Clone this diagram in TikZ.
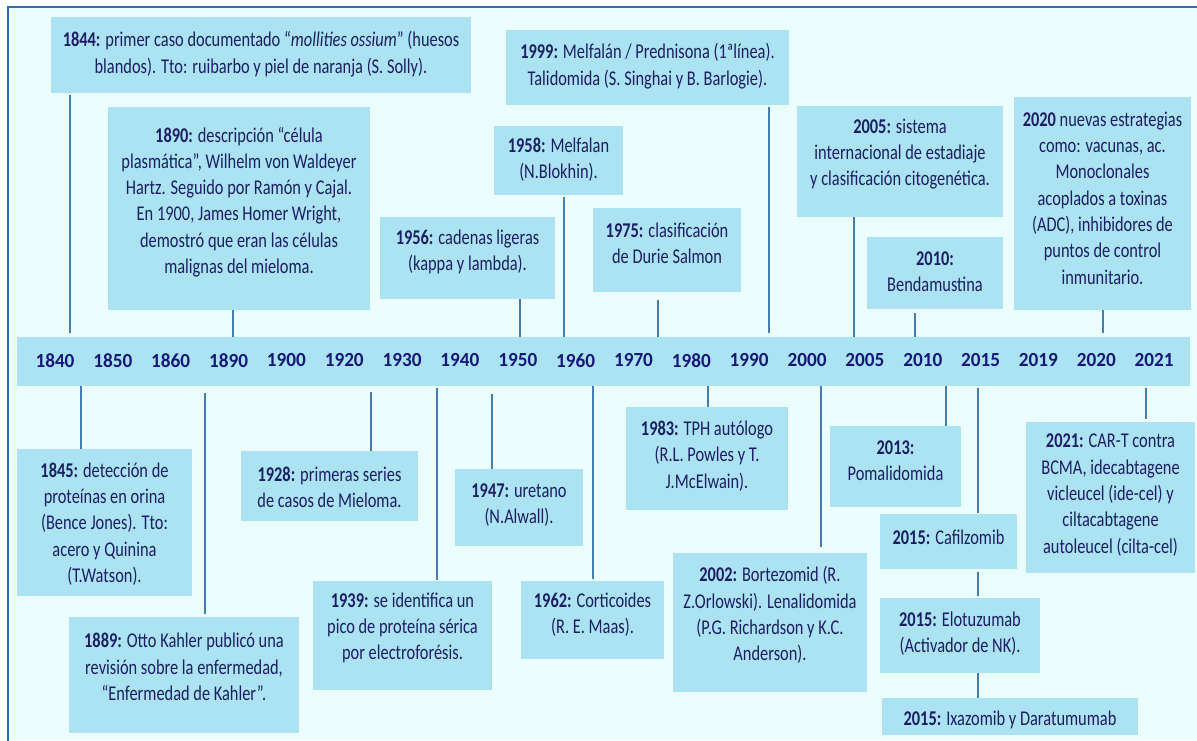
\documentclass[tikz,border=0pt]{standalone}
\usepackage{fontspec}
\setmainfont{Carlito}[FakeStretch=0.78]
\newfontfamily\yearfont{Carlito}[FakeStretch=0.96]
\usetikzlibrary{calc}
\definecolor{bgc}{RGB}{236,253,253}
\definecolor{boxc}{RGB}{171,227,243}
\definecolor{txtc}{RGB}{28,30,100}
\definecolor{yrc}{RGB}{22,24,120}
\definecolor{connc}{RGB}{70,125,170}
\definecolor{bordc}{RGB}{46,109,180}
\tikzset{
  evfill/.style={fill=boxc, draw=none, inner sep=0pt, outer sep=0pt},
  evtext/.style={text=txtc, align=center, inner sep=0pt, font=\fontsize{21}{26.3}\selectfont},
  yrtext/.style={text=yrc, inner sep=0pt, font=\yearfont\bfseries\fontsize{20}{24}\selectfont},
  conn/.style={draw=connc, line width=1.2pt},
}
\newcommand\evbox[7]{%
  \node[evfill, minimum width={#4-#2}, minimum height={#5-#3}] (#1) at ({(#2+#4)/2},{(#3+#5)/2}) {};
  \node[evtext] (#1t) at ({(#2+#4)/2},#6) {#7};
}
\begin{document}
\begin{tikzpicture}[x=1pt,y=-1pt]
\useasboundingbox (0,0) rectangle (1197,740);
\fill[white] (0,0) rectangle (1197,740);
\fill[bgc] (8,7) rectangle (1197,740);
\draw[bordc, line width=2.5pt] (8,741) -- (8,7) -- (1198,7);

% band
\node[evfill, minimum width=1173, minimum height=49] (band) at (603.5,361.5) {};
\foreach \yr [count=\i from 0] in {1840,1850,1860,1890,1900,1920,1930,1940,1950,1960,1970,1980,1990,2000,2005,2010,2015,2019,2020,2021}
  \node[yrtext] (y\yr) at ({55+57.85*\i},360.5) {\yr};

% top events
\evbox{b1844}{51}{17}{471}{93}{54}{\textbf{1844:} primer caso documentado “\textit{mollities ossium}” (huesos\\blandos). Tto: ruibarbo y piel de naranja (S. Solly).}
\evbox{b1890}{108}{107}{370}{310}{202}{\textbf{1890:} descripción “célula\\plasmática”, Wilhelm von Waldeyer\\Hartz. Seguido por Ramón y Cajal.\\En 1900, James Homer Wright,\\demostró que eran las células\\malignas del mieloma.}
\evbox{b1999}{506}{30}{789}{105}{66}{\textbf{1999:} Melfalán / Prednisona (1ªlínea).\\Talidomida (S. Singhai y B. Barlogie).}
\evbox{b1958}{494}{126}{623}{195}{160}{\textbf{1958:} Melfalan\\(N.Blokhin).}
\evbox{b1956}{380}{217}{555}{299}{252}{\textbf{1956:} cadenas ligeras\\(kappa y lambda).}
\evbox{b1975}{593}{208}{741}{292}{243}{\textbf{1975:} clasificación\\de Durie Salmon}
\evbox{b2005}{797}{106}{1003}{217}{154}{\textbf{2005:} sistema\\internacional de estadiaje\\y clasificación citogenética.}
\evbox{b2010}{867}{237}{1003}{309}{272}{\textbf{2010:}\\Bendamustina}
\evbox{b2020}{1014}{97}{1191}{310}{198}{\textbf{2020} nuevas estrategias\\como: vacunas, ac.\\Monoclonales\\acoplados a toxinas\\(ADC), inhibidores de\\puntos de control\\inmunitario.}

% bottom events
\evbox{b1845}{17}{449}{192}{596}{524}{\textbf{1845:} detección de\\proteínas en orina\\(Bence Jones). Tto:\\acero y Quinina\\(T.Watson).}
\evbox{b1889}{69}{617}{299}{733}{667}{\textbf{1889:} Otto Kahler publicó una\\revisión sobre la enfermedad,\\“Enfermedad de Kahler”.}
\evbox{b1928}{241}{451}{418}{521}{487}{\textbf{1928:} primeras series\\de casos de Mieloma.}
\evbox{b1939}{313}{581}{492}{690}{628}{\textbf{1939:} se identifica un\\pico de proteína sérica\\por electroforésis.}
\evbox{b1947}{455}{469}{583}{546}{505}{\textbf{1947:} uretano\\(N.Alwall).}
\evbox{b1962}{521}{581}{664}{659}{615}{\textbf{1962:} Corticoides\\(R. E. Maas).}
\evbox{b1983}{626}{407}{788}{510}{456}{\textbf{1983:} TPH autólogo\\(R.L. Powles y T.\\J.McElwain).}
\evbox{b2002}{673}{553}{867}{692}{615}{\textbf{2002:} Bortezomid (R.\\Z.Orlowski). Lenalidomida\\(P.G. Richardson y K.C.\\Anderson).}
\evbox{b2013}{830}{426}{961}{507}{461}{\textbf{2013:}\\Pomalidomida}
\evbox{bcaf}{880}{514}{1017}{569}{537}{\textbf{2015:} Cafilzomib}
\evbox{belo}{880}{598}{1040}{673}{634}{\textbf{2015:} Elotuzumab\\(Activador de NK).}
\evbox{bixa}{882}{698}{1138}{735}{720}{\textbf{2015:} Ixazomib y Daratumumab}
\evbox{b2021}{1026}{422}{1195}{573}{495}{\textbf{2021:} CAR-T contra\\BCMA, idecabtagene\\vicleucel (ide-cel) y\\ciltacabtagene\\autoleucel (cilta-cel)}

% tick coordinates (top: end above band; bottom: start below band)
\coordinate (t1844) at (70,333);
\coordinate (t1890) at (233,337);
\coordinate (t1956) at (520,337);
\coordinate (t1958) at (564,337);
\coordinate (t1975) at (658,337);
\coordinate (t1999) at (769,333);
\coordinate (t2005) at (854,337);
\coordinate (t2010) at (915,337);
\coordinate (t2020) at (1103,333);
\coordinate (t1845) at (81,386);
\coordinate (t1889) at (205,393);
\coordinate (t1928) at (371,392);
\coordinate (t1939) at (437,388);
\coordinate (t1947) at (492,394);
\coordinate (t1962) at (593,386);
\coordinate (t1983) at (708,386);
\coordinate (t2002) at (821,386);
\coordinate (t2013) at (946,386);
\coordinate (t2015) at (978,388);
\coordinate (t2021) at (1146,388);

\draw[conn] ([yshift=-2pt]b1844.south -| t1844) -- (t1844);
\draw[conn] (b1890.south -| t1890) -- (t1890);
\draw[conn] (b1956.south -| t1956) -- (t1956);
\draw[conn] ([yshift=-2pt]b1958.south -| t1958) -- (t1958);
\draw[conn] ([yshift=-8pt]b1975.south -| t1975) -- (t1975);
\draw[conn] ([yshift=-2pt]b1999.south -| t1999) -- (t1999);
\draw[conn] (b2005.south -| t2005) -- (t2005);
\draw[conn] ([yshift=-4pt]b2010.south -| t2010) -- (t2010);
\draw[conn] (b2020.south -| t2020) -- (t2020);
\draw[conn] (t1845) -- (b1845.north -| t1845);
\draw[conn] (t1889) -- ([yshift=3pt]b1889.north -| t1889);
\draw[conn] (t1928) -- (b1928.north -| t1928);
\draw[conn] (t1939) -- ([yshift=1pt]b1939.north -| t1939);
\draw[conn] (t1947) -- (b1947.north -| t1947);
\draw[conn] (t1962) -- ([yshift=2pt]b1962.north -| t1962);
\draw[conn] (t1983) -- (b1983.north -| t1983);
\draw[conn] (t2002) -- ([yshift=6pt]b2002.north -| t2002);
\draw[conn] (t2013) -- (b2013.north -| t2013);
\draw[conn] (t2015) -- ([yshift=1pt]bcaf.north -| t2015);
\draw[conn] ([yshift=-3pt]bcaf.south -| t2015) -- ([yshift=2pt]belo.north -| t2015);
\draw[conn] (belo.south -| t2015) -- (bixa.north -| t2015);
\draw[conn] (t2021) -- ([yshift=3pt]b2021.north -| t2021);
\end{tikzpicture}
\end{document}
